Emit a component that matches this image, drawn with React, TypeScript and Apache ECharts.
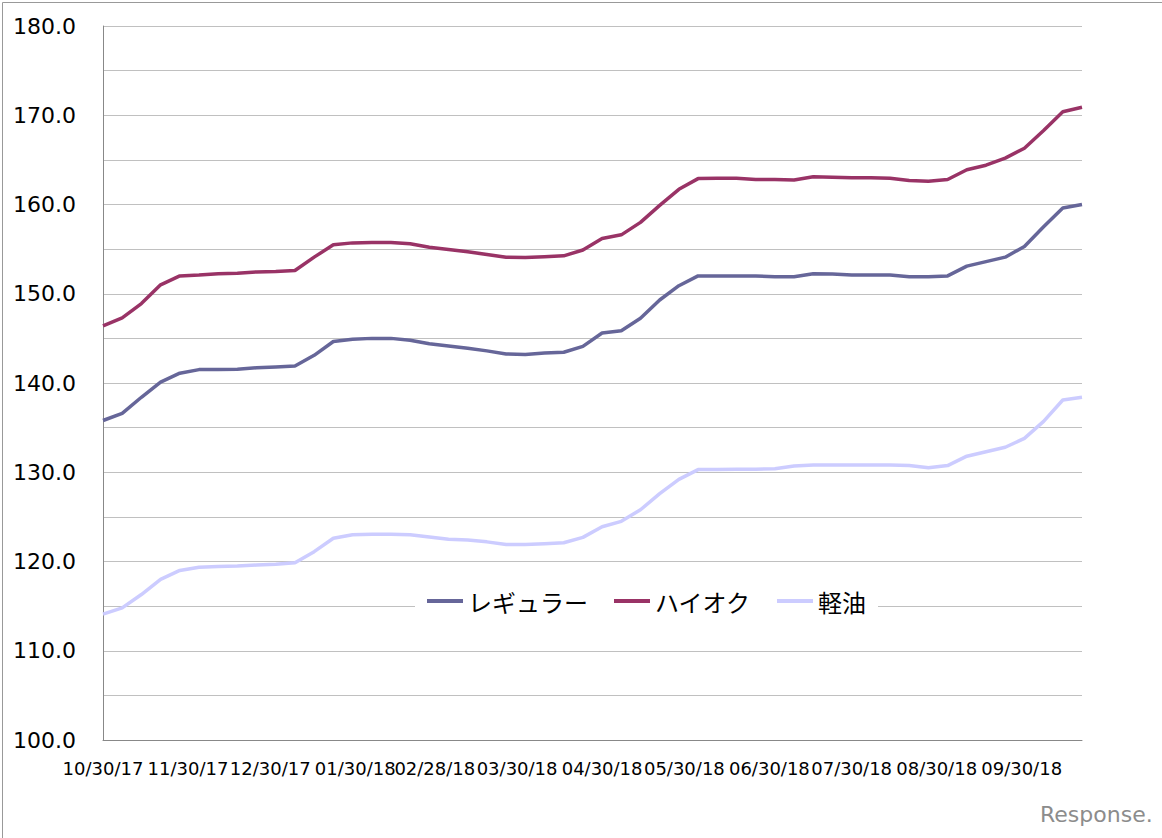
import React, { useEffect, useRef } from "react";
import * as echarts from "echarts";

const dates: string[] = [
  "2017-10-30", "2017-11-06", "2017-11-13", "2017-11-20", "2017-11-27", "2017-12-04", "2017-12-11", "2017-12-18", "2017-12-25",
  "2018-01-01", "2018-01-08", "2018-01-15", "2018-01-22", "2018-01-29",
  "2018-02-05", "2018-02-12", "2018-02-19", "2018-02-26",
  "2018-03-05", "2018-03-12", "2018-03-19", "2018-03-26",
  "2018-04-02", "2018-04-09", "2018-04-16", "2018-04-23", "2018-04-30",
  "2018-05-07", "2018-05-14", "2018-05-21", "2018-05-28",
  "2018-06-04", "2018-06-11", "2018-06-18", "2018-06-25",
  "2018-07-02", "2018-07-09", "2018-07-16", "2018-07-23", "2018-07-30",
  "2018-08-06", "2018-08-13", "2018-08-20", "2018-08-27",
  "2018-09-03", "2018-09-10", "2018-09-17", "2018-09-24",
  "2018-10-01", "2018-10-08", "2018-10-15", "2018-10-22",
];

const regular: number[] = [
  135.8, 136.6, 138.4, 140.1, 141.1, 141.5, 141.5, 141.55, 141.7,
  141.8, 141.9, 143.1, 144.65, 144.9,
  145.0, 145.0, 144.8, 144.4,
  144.15, 143.9, 143.6, 143.25,
  143.2, 143.35, 143.45, 144.1, 145.6,
  145.85, 147.25, 149.3, 150.9,
  152.0, 152.0, 152.0, 152.0,
  151.9, 151.9, 152.25, 152.2, 152.1,
  152.1, 152.1, 151.9, 151.9,
  152.0, 153.1, 153.6, 154.1,
  155.3, 157.5, 159.6, 160.0,
];

const highOctane: number[] = [
  146.4, 147.3, 148.9, 151.0, 152.0, 152.1, 152.25, 152.3, 152.45,
  152.5, 152.6, 154.1, 155.5, 155.7,
  155.75, 155.75, 155.6, 155.2,
  154.95, 154.7, 154.4, 154.1,
  154.05, 154.15, 154.25, 154.9, 156.2,
  156.6, 158.0, 159.9, 161.7,
  162.9, 162.95, 162.95, 162.8,
  162.8, 162.75, 163.1, 163.05, 163.0,
  163.0, 162.95, 162.7, 162.6,
  162.8, 163.9, 164.4, 165.2,
  166.3, 168.3, 170.4, 170.9,
];

const diesel: number[] = [
  114.1, 114.8, 116.3, 118.0, 119.0, 119.35, 119.45, 119.5, 119.6,
  119.7, 119.85, 121.1, 122.6, 123.0,
  123.05, 123.05, 123.0, 122.75,
  122.5, 122.4, 122.2, 121.9,
  121.9, 122.0, 122.1, 122.7, 123.9,
  124.5, 125.8, 127.6, 129.2,
  130.3, 130.3, 130.35, 130.35,
  130.4, 130.7, 130.8, 130.8, 130.8,
  130.8, 130.8, 130.75, 130.5,
  130.75, 131.8, 132.3, 132.8,
  133.8, 135.7, 138.1, 138.4,
];

const xTickDates: string[] = [
  "2017-10-30", "2017-11-30", "2017-12-30", "2018-01-30", "2018-02-28", "2018-03-30",
  "2018-04-30", "2018-05-30", "2018-06-30", "2018-07-30", "2018-08-30", "2018-09-30",
];

const seriesNames: string[] = ["レギュラー", "ハイオク", "軽油"];
const seriesColors: string[] = ["#666699", "#993366", "#CCCCFF"];

function toTs(s: string): number {
  const [y, m, d] = s.split("-").map(Number);
  return new Date(y, m - 1, d).getTime();
}

function fmt(v: number): string {
  const d = new Date(v);
  const mm = String(d.getMonth() + 1).padStart(2, "0");
  const dd = String(d.getDate()).padStart(2, "0");
  const yy = String(d.getFullYear() % 100).padStart(2, "0");
  return `${mm}/${dd}/${yy}`;
}

export default function App() {
  const ref = useRef<HTMLDivElement>(null);
  useEffect(() => {
    document.body.style.margin = "0";
    if (!ref.current) return;
    const chart = echarts.init(ref.current, undefined, { renderer: "svg" });
    const xs = dates.map(toTs);
    const mk = (vals: number[]) => vals.map((v, i) => [xs[i], v]);
    const numFont = "'DejaVu Sans', sans-serif";
    const jpFont = "'Noto Sans CJK JP', sans-serif";
    chart.setOption({
      animation: false,
      backgroundColor: "#ffffff",
      grid: { left: 103, right: 80, top: 26, bottom: 98, containLabel: false },
      xAxis: {
        type: "value",
        min: xs[0],
        max: xs[xs.length - 1],
        splitLine: { show: false },
        axisLine: { show: true, lineStyle: { color: "#888888", width: 1 } },
        axisTick: { show: false },
        axisLabel: {
          customValues: xTickDates.map(toTs),
          formatter: (v: number) => fmt(v),
          color: "#000000",
          fontSize: 18,
          fontFamily: numFont,
          margin: 19,
          showMinLabel: true,
          showMaxLabel: true,
          hideOverlap: false,
        },
      },
      yAxis: {
        type: "value",
        min: 100,
        max: 180,
        interval: 5,
        axisLine: { show: true, lineStyle: { color: "#888888", width: 1 } },
        axisTick: { show: false },
        splitLine: { show: true, lineStyle: { color: "#c0c0c0", width: 1 } },
        axisLabel: {
          formatter: (v: number) => (Math.round(v) % 10 === 0 ? v.toFixed(1) : ""),
          color: "#000000",
          fontSize: 22,
          fontFamily: numFont,
          margin: 27,
        },
      },
      legend: {
        left: 415,
        top: 585,
        padding: [4, 12],
        backgroundColor: "#ffffff",
        itemWidth: 36,
        itemHeight: 4,
        itemGap: 26,
        icon: "rect",
        textStyle: { fontSize: 24, color: "#000000", fontFamily: jpFont },
        data: seriesNames,
      },
      series: [regular, highOctane, diesel].map((vals, k) => ({
        name: seriesNames[k],
        type: "line",
        data: mk(vals),
        symbol: "none",
        color: seriesColors[k],
        lineStyle: { color: seriesColors[k], width: 3.5 },
      })),
      graphic: [
        {
          type: "rect",
          left: 0,
          top: 0,
          shape: { x: 0.5, y: 0.5, width: 1161, height: 837 },
          style: { fill: "none", stroke: "#999999", lineWidth: 1 },
          silent: true,
        },
        {
          type: "text",
          left: 1040,
          top: 803,
          style: { text: "Response.", fill: "#8c8c8c", font: "22px 'DejaVu Sans', sans-serif" },
          silent: true,
        },
      ],
    });
    return () => chart.dispose();
  }, []);
  return <div ref={ref} style={{ width: 1162, height: 838 }} />;
}
